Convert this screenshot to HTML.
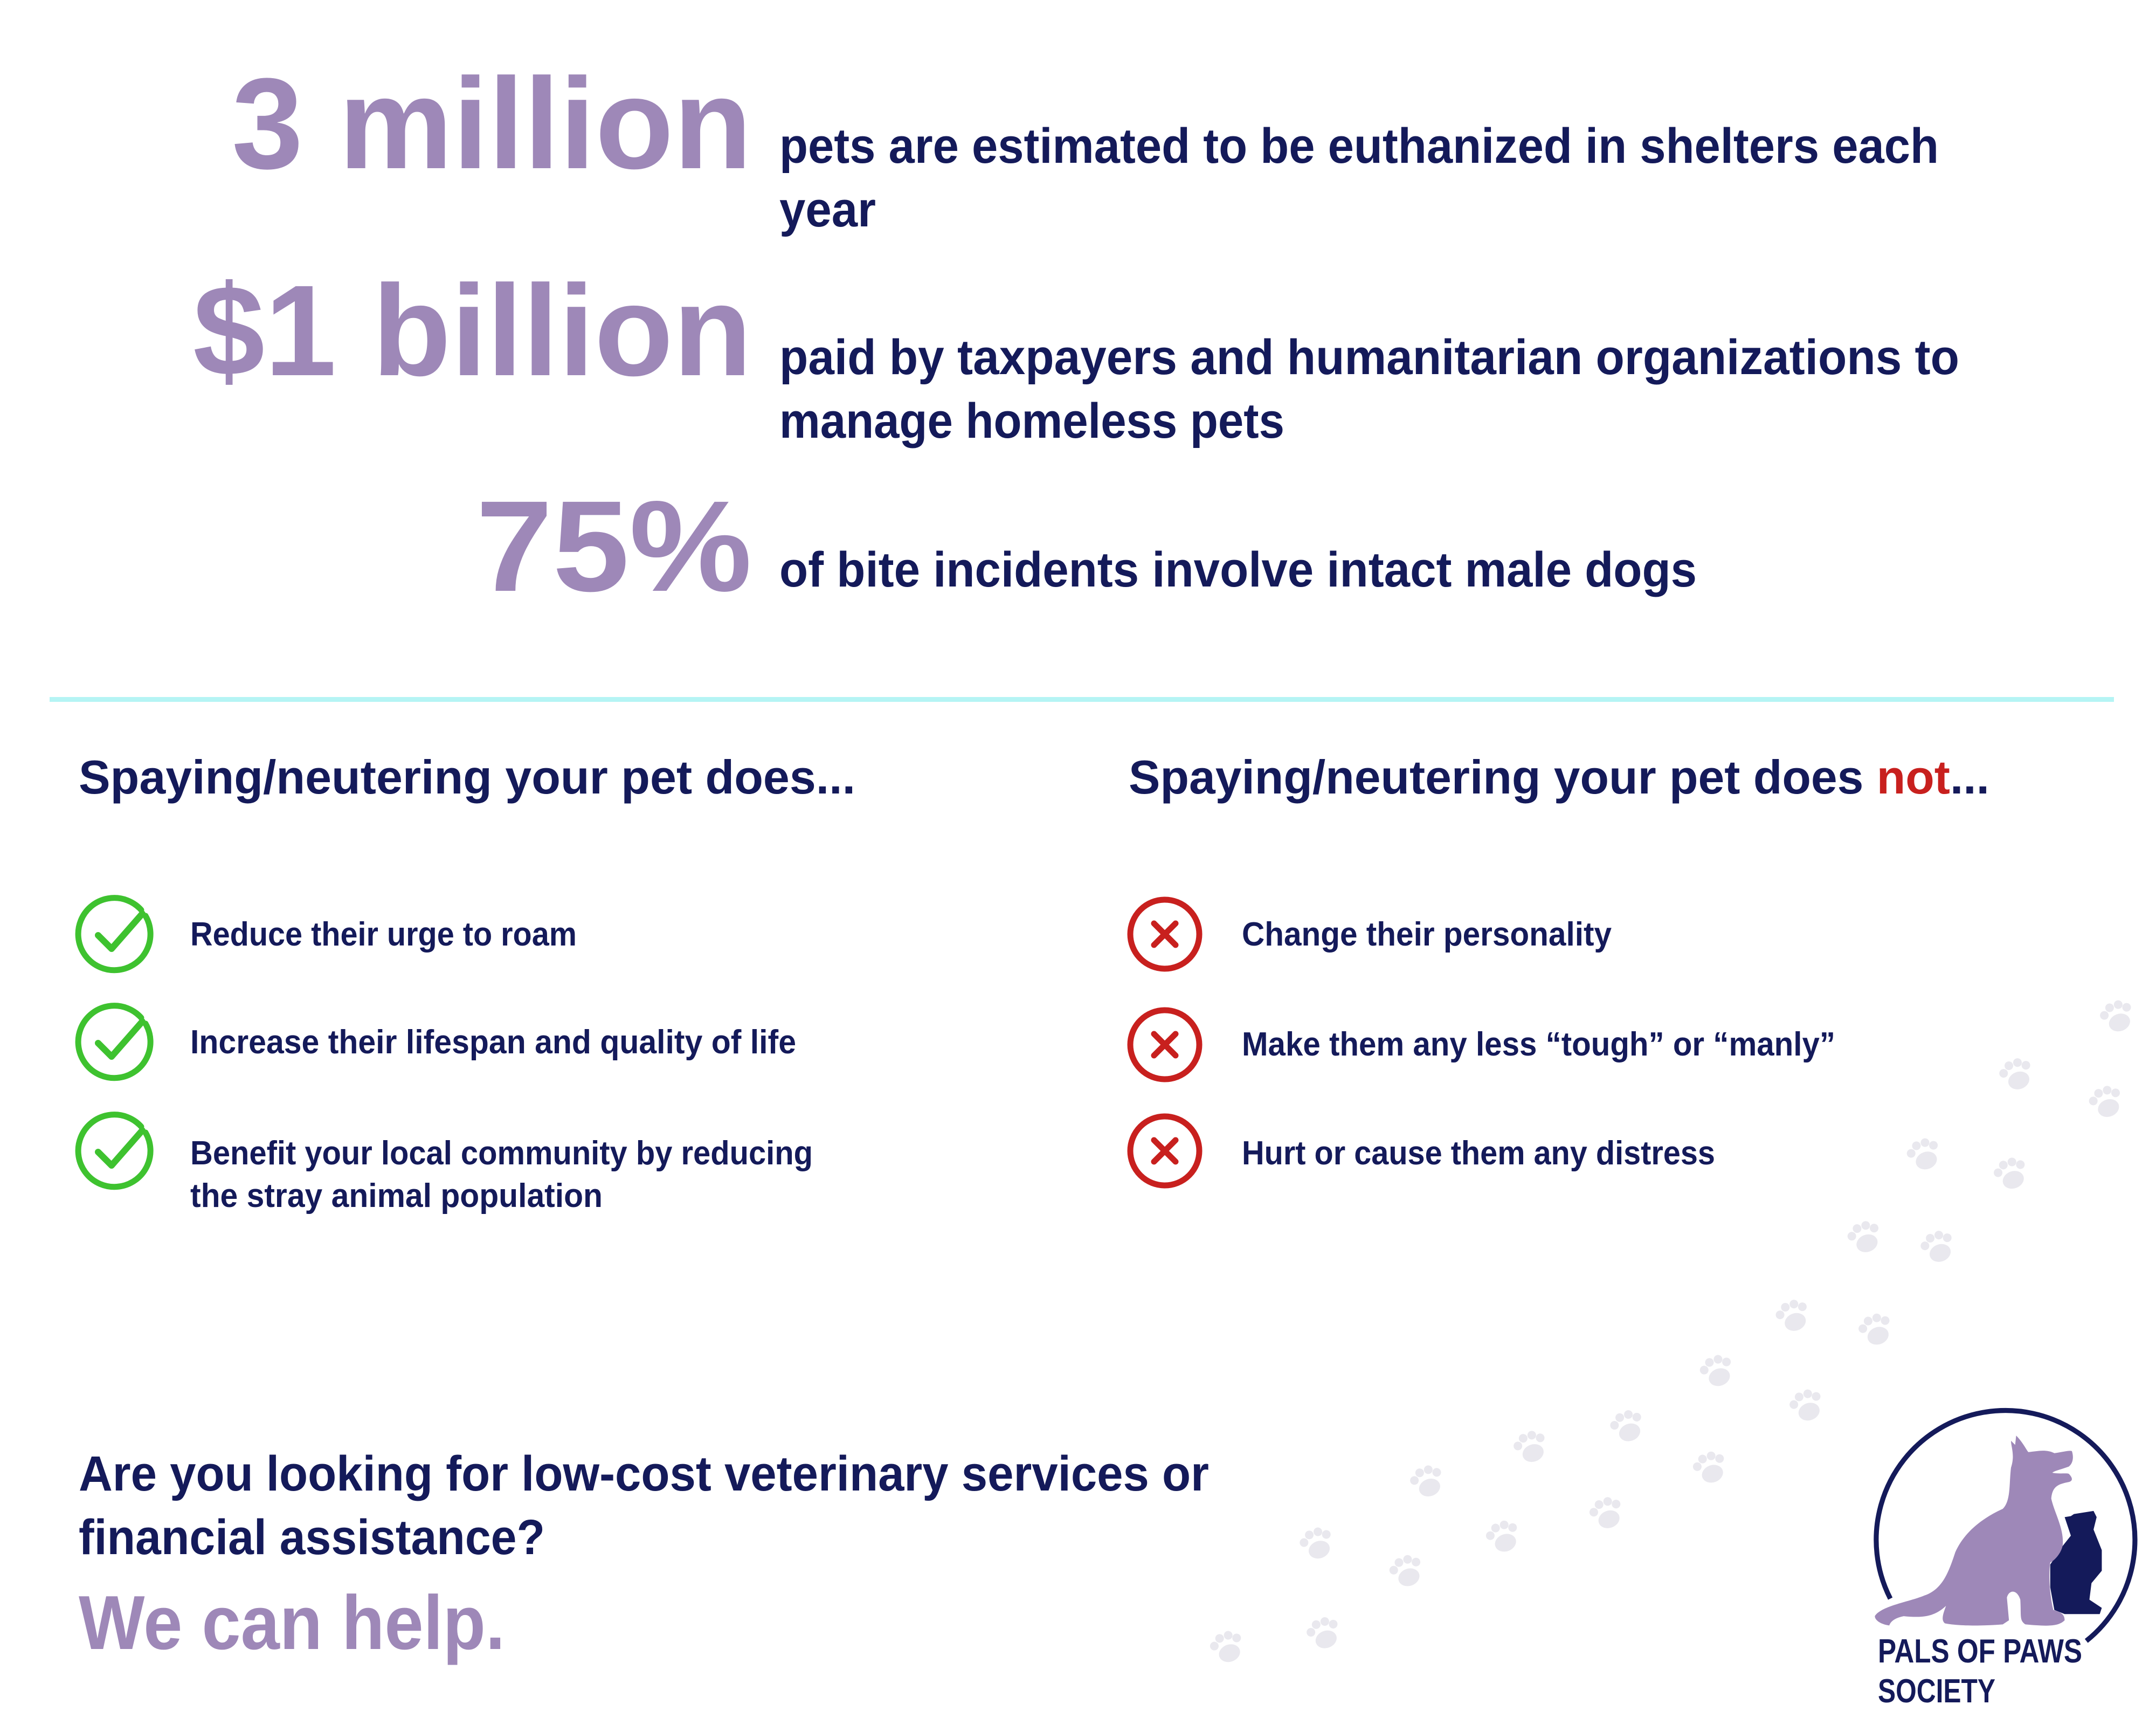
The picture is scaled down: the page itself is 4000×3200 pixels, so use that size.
<!DOCTYPE html>
<html><head><meta charset="utf-8"><style>
html,body{margin:0;padding:0;background:#fff;}
svg{display:block;}
text{font-family:"Liberation Sans",sans-serif;font-weight:bold;}
</style></head><body>
<svg width="4000" height="3200" viewBox="0 0 4000 3200" xmlns="http://www.w3.org/2000/svg">
<rect width="4000" height="3200" fill="#ffffff"/>
<g id="paws" fill="#e9e8ee"></g>

<g>
<text x="1395" y="312" font-size="240" fill="#9e88b8" text-anchor="end" textLength="965" lengthAdjust="spacingAndGlyphs">3 million</text>
<text x="1446" y="302" font-size="92" fill="#141a5a" textLength="2151" lengthAdjust="spacingAndGlyphs">pets are estimated to be euthanized in shelters each</text>
<text x="1446" y="420" font-size="92" fill="#141a5a" textLength="179" lengthAdjust="spacingAndGlyphs">year</text>
</g>
<g>
<text x="1395" y="696" font-size="240" fill="#9e88b8" text-anchor="end" textLength="1037" lengthAdjust="spacingAndGlyphs">$1 billion</text>
<text x="1446" y="694" font-size="92" fill="#141a5a" textLength="2189" lengthAdjust="spacingAndGlyphs">paid by taxpayers and humanitarian organizations to</text>
<text x="1446" y="812" font-size="92" fill="#141a5a" textLength="937" lengthAdjust="spacingAndGlyphs">manage homeless pets</text>
</g>
<g>
<text x="1395" y="1096" font-size="240" fill="#9e88b8" text-anchor="end" textLength="512" lengthAdjust="spacingAndGlyphs">75%</text>
<text x="1446" y="1088" font-size="92" fill="#141a5a" textLength="1702" lengthAdjust="spacingAndGlyphs">of bite incidents involve intact male dogs</text>
</g>

<rect x="92" y="1293" width="3830" height="9" fill="#b5f4f4"/>

<text x="146" y="1472" font-size="88" fill="#141a5a" textLength="1441" lengthAdjust="spacingAndGlyphs">Spaying/neutering your pet does...</text>
<text x="2094" y="1472" font-size="88" fill="#141a5a" textLength="1597" lengthAdjust="spacingAndGlyphs">Spaying/neutering your pet does <tspan fill="#c8201e">not</tspan>...</text>

<g id="checks"></g>
<g id="crosses"></g>

<text x="353" y="1754" font-size="62" fill="#141a5a" textLength="717" lengthAdjust="spacingAndGlyphs">Reduce their urge to roam</text>
<text x="353" y="1954" font-size="62" fill="#141a5a" textLength="1124" lengthAdjust="spacingAndGlyphs">Increase their lifespan and quality of life</text>
<text x="353" y="2160" font-size="62" fill="#141a5a" textLength="1155" lengthAdjust="spacingAndGlyphs">Benefit your local community by reducing</text>
<text x="353" y="2239" font-size="62" fill="#141a5a" textLength="765" lengthAdjust="spacingAndGlyphs">the stray animal population</text>

<text x="2304" y="1754" font-size="62" fill="#141a5a" textLength="686" lengthAdjust="spacingAndGlyphs">Change their personality</text>
<text x="2304" y="1958" font-size="62" fill="#141a5a" textLength="1101" lengthAdjust="spacingAndGlyphs">Make them any less “tough” or “manly”</text>
<text x="2304" y="2160" font-size="62" fill="#141a5a" textLength="878" lengthAdjust="spacingAndGlyphs">Hurt or cause them any distress</text>

<text x="146" y="2765" font-size="92" fill="#141a5a" textLength="2097" lengthAdjust="spacingAndGlyphs">Are you looking for low-cost veterinary services or</text>
<text x="146" y="2883" font-size="92" fill="#141a5a" textLength="865" lengthAdjust="spacingAndGlyphs">financial assistance?</text>
<text x="146" y="3059" font-size="142" fill="#9e88b8" textLength="791" lengthAdjust="spacingAndGlyphs">We can help.</text>

<g>
<svg x="3398" y="2600" width="689" height="689" viewBox="0 0 1800 1800">
<path d="M 285 955 A 627 627 0 1 1 1235 1160" fill="none" stroke="#141a5a" stroke-width="24"/>
<path d="M1060,790 L1120,700 L1160,650 L1130,560 L1160,555 L1175,545 L1270,530 L1285,560 L1270,620 L1310,720 L1310,820 L1260,880 L1250,960 L1310,1000 L1300,1030 L1130,1030 L1080,1010 L1060,900 Z" fill="#141a5a"/>
<path d="M210,1040 C240,990 380,970 450,940 C540,910 570,820 600,730 C640,640 720,570 830,520 C870,480 860,400 870,320 C890,260 870,220 870,190 L890,210 L895,165 C930,200 950,245 955,245 C1000,240 1040,230 1080,250 C1120,245 1150,235 1165,240 C1175,270 1170,300 1150,315 C1110,330 1080,335 1070,345 C1100,352 1140,345 1150,350 C1170,370 1170,385 1150,390 C1100,400 1070,410 1065,470 C1080,540 1130,620 1120,700 C1110,740 1080,770 1060,780 C1050,850 1060,950 1075,1010 C1110,1020 1130,1030 1130,1060 C1100,1090 1050,1090 940,1080 C910,1060 920,1040 915,960 C900,910 860,910 850,950 L860,1060 L830,1080 C700,1090 600,1085 550,1075 C530,1060 540,1030 555,990 C500,1040 450,1050 350,1040 C300,1050 285,1070 280,1085 C240,1080 210,1060 210,1040 Z" fill="#9e88b8"/>
</svg>
<text x="3484" y="3084" font-size="62" fill="#141a5a" textLength="379" lengthAdjust="spacingAndGlyphs">PALS OF PAWS</text>
<text x="3484" y="3158" font-size="62" fill="#141a5a" textLength="218" lengthAdjust="spacingAndGlyphs">SOCIETY</text>
</g>
</svg>
<script>
var NS="http://www.w3.org/2000/svg";
var pawPts=[[1535,738],[1462,780],[1527,800],[1395,838],[1458,852],[1352,898],[1405,905],[1300,955],[1360,965],[1245,995],[1310,1020],[1180,1035],[1110,1050],[1240,1065],[1035,1075],[1165,1098],[1090,1115],[955,1120],[1020,1140],[960,1185],[890,1195]];
var checkRows=[1733,1933,2135];
var crossRows=[1733,1938,2135];
var pg=document.getElementById('paws');
pawPts.forEach(function(p){
  var g=document.createElementNS(NS,'g');
  
  
  g.setAttribute('transform','translate('+(p[0]*2.56)+','+(p[1]*2.56)+') rotate(-20)');
  g.innerHTML='<ellipse cx="0" cy="8" rx="20" ry="16"/><circle cx="-22" cy="-14" r="8"/><circle cx="-8" cy="-24" r="8"/><circle cx="9" cy="-24" r="8"/><circle cx="22" cy="-14" r="8"/>';
  pg.appendChild(g);
});
var cg=document.getElementById('checks');
checkRows.forEach(function(y){
  var g=document.createElementNS(NS,'g');
  
  
  g.innerHTML='<path d="M '+(212+58)+' '+(y-34)+' A 67 67 0 1 1 '+(212+50)+' '+(y-45)+'" fill="none" stroke="#3ec22f" stroke-width="11" stroke-linecap="round"/><path d="M '+(212-30)+' '+(y+2)+' L '+(212-5)+' '+(y+27)+' L '+(212+52)+' '+(y-38)+'" fill="none" stroke="#3ec22f" stroke-width="12" stroke-linecap="round" stroke-linejoin="round"/>';
  cg.appendChild(g);
});
var xg=document.getElementById('crosses');
crossRows.forEach(function(y){
  var g=document.createElementNS(NS,'g');
  
  
  var cx=2161;
  g.innerHTML='<circle cx="'+cx+'" cy="'+y+'" r="64" fill="none" stroke="#c8201e" stroke-width="11"/><path d="M '+(cx-20)+' '+(y-20)+' L '+(cx+20)+' '+(y+20)+' M '+(cx+20)+' '+(y-20)+' L '+(cx-20)+' '+(y+20)+'" stroke="#c8201e" stroke-width="11" stroke-linecap="round"/>';
  xg.appendChild(g);
});
</script>
</body></html>
